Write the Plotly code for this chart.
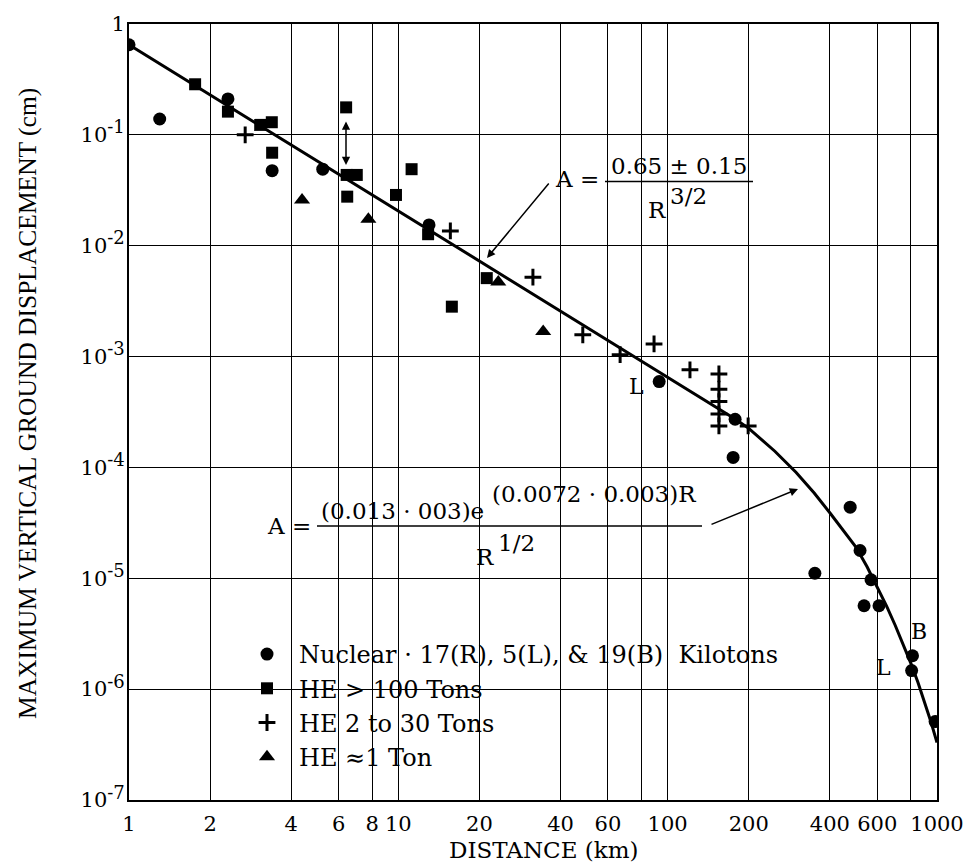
import plotly.graph_objects as go

# ---------------- data ----------------
nuclear_x = [1.0, 1.30, 2.33, 3.4, 5.24, 13.0, 93, 178, 175, 352, 476, 518, 569, 536, 609, 811, 805, 984]
nuclear_y = [0.65, 0.139, 0.211, 0.0475, 0.049, 0.0154, 0.000595, 0.000272, 0.000123,
             1.11e-5, 4.38e-5, 1.78e-5, 9.7e-6, 5.65e-6, 5.65e-6, 2.0e-6, 1.47e-6, 5.1e-7]

he100_x = [1.76, 2.33, 3.07, 3.39, 3.4, 6.40, 6.43, 7.01, 6.46, 9.8, 11.2, 12.9, 15.8, 21.3]
he100_y = [0.286, 0.162, 0.123, 0.130, 0.069, 0.177, 0.0435, 0.0435, 0.0277, 0.0287,
           0.049, 0.0127, 0.00282, 0.0051]

he2_30_x = [2.70, 15.6, 31.6, 48.4, 66.6, 89, 121, 155, 155, 155, 155, 155, 199]
he2_30_y = [0.100, 0.0136, 0.0052, 0.00157, 0.00104, 0.0013, 0.00076,
            6.98e-4, 5.08e-4, 3.93e-4, 3.04e-4, 2.37e-4, 2.37e-4]

he1_x = [4.39, 7.74, 23.5, 34.5]
he1_y = [0.0259, 0.0173, 0.0047, 0.00168]

# fitted curve
curve_x = [1, 2, 4, 10, 20, 40, 100, 150, 178, 200, 250, 300, 350, 400, 450, 500,
           550, 600, 650, 700, 750, 800, 850, 900, 950, 1000]
curve_y = [0.65, 0.23, 0.081, 0.0205, 0.0073, 0.0026, 0.00065, 0.00036, 0.000274, 0.000225,
           0.00014, 0.00009, 0.0000587, 0.000039, 0.0000269, 0.0000191,
           0.0000127, 0.0000083, 0.0000056, 0.00000375, 0.00000253, 0.00000171,
           0.00000115, 0.00000077, 0.000000505, 0.00000033]

x_tickvals = [1, 2, 4, 6, 8, 10, 20, 40, 60, 80, 100, 200, 400, 600, 800, 1000]
x_ticktext = ["1", "2", "4", "6", "8", "10", "20", "40", "60", "", "100", "200", "400", "600", "", "1000"]
y_tickvals = [1e-7, 1e-6, 1e-5, 1e-4, 1e-3, 1e-2, 1e-1, 1]
y_exponents = ["-7", "-6", "-5", "-4", "-3", "-2", "-1", None]

legend_names = ["Nuclear · 17(R), 5(L), & 19(B)\u00a0 Kilotons", "HE > 100 Tons",
                "HE 2 to 30 Tons", "HE \u22481 Ton"]

# ---------------- layout helpers ----------------
W, H = 980, 868
L, R, T, B = 129, 937, 24, 800
PW, PH = R - L, B - T
SERIF = "DejaVu Serif"


def px(x):
    return (x - L) / PW


def py(y):
    return (B - y) / PH


y_ticktext = ["1" if e is None else
              "10<sup><span style='font-size:18px'>" + e + "</span></sup>" for e in y_exponents]

fig = go.Figure()

fig.add_trace(go.Scatter(x=curve_x, y=curve_y, mode="lines",
                         line=dict(color="black", width=3),
                         showlegend=False, hoverinfo="skip"))

fig.add_trace(go.Scatter(x=nuclear_x, y=nuclear_y, mode="markers", name="\u2002" + legend_names[0],
                         marker=dict(symbol="circle", size=13, color="black")))
fig.add_trace(go.Scatter(x=he100_x, y=he100_y, mode="markers", name="\u2002" + legend_names[1],
                         marker=dict(symbol="square", size=12, color="black")))
fig.add_trace(go.Scatter(x=he2_30_x, y=he2_30_y, mode="markers", name="\u2002" + legend_names[2],
                         marker=dict(symbol="cross-thin", size=12, color="black",
                                     line=dict(color="black", width=3))))
fig.add_trace(go.Scatter(x=he1_x, y=he1_y, mode="markers", name="\u2002" + legend_names[3],
                         marker=dict(symbol="triangle-up", size=14, color="black")))

# white masks that interrupt the grid behind the labels
masks = [
    (540, 148, 765, 226),   # upper formula
    (262, 480, 717, 568),   # lower formula
    (235, 635, 827, 770),   # legend
    (624, 365, 650, 405),   # L (near 90 km)
    (907, 612, 931, 650),   # B
    (871, 647, 895, 686),   # L (near 800 km)
]
shapes = []
for x0, y0, x1, y1 in masks:
    shapes.append(dict(type="rect", xref="paper", yref="paper",
                       x0=px(x0), x1=px(x1), y0=py(y1), y1=py(y0),
                       fillcolor="white", line=dict(width=0), layer="between"))
# fraction bars
shapes.append(dict(type="line", xref="paper", yref="paper", x0=px(605), x1=px(753),
                   y0=py(181.5), y1=py(181.5), line=dict(color="black", width=1.3)))
shapes.append(dict(type="line", xref="paper", yref="paper", x0=px(317), x1=px(702),
                   y0=py(526), y1=py(526), line=dict(color="black", width=1.3)))

ann = []


def text(t, x, y, size=23, xanchor="center", family=SERIF, angle=0):
    ann.append(dict(text=t, xref="paper", yref="paper", x=px(x), y=py(y),
                    xanchor=xanchor, yanchor="middle", showarrow=False, textangle=angle,
                    font=dict(family=family, size=size, color="black")))


def arrow(x0, y0, x1, y1, both=False):
    ann.append(dict(text="", xref="paper", yref="paper", x=px(x1), y=py(y1),
                    ax=x0 - x1, ay=y0 - y1, axref="pixel", ayref="pixel",
                    showarrow=True, arrowhead=2, arrowsize=1.1, arrowwidth=1.5,
                    arrowcolor="black", arrowside="end+start" if both else "end",
                    standoff=0, startstandoff=0))


# upper formula
text("A =", 601, 179, xanchor="right")
text("0.65 \u00b1 0.15", 679, 166)
text("R", 657, 210)
text("3/2", 668, 196, xanchor="left")
arrow(550, 182, 487, 258)

# lower formula
text("A =", 313, 526, xanchor="right")
text("(0.013 \u00b7 003)e", 319, 511, xanchor="left")
text("(0.0072 \u00b7 0.003)R", 490, 494, xanchor="left")
text("R", 485, 557)
text("1/2", 496, 543, xanchor="left")
arrow(710, 525, 798, 489)

# double arrow between HE squares
arrow(346, 120, 346, 165, both=True)

# point labels
text("L", 636, 386, size=22)
text("B", 919, 631, size=22)
text("L", 883, 667, size=22)

# axis titles
text("DISTANCE (km)", 544, 850, size=23)
text("MAXIMUM VERTICAL GROUND DISPLACEMENT (cm)", 27, 404, size=25.5,
     family="Liberation Serif", angle=-90)

axis_common = dict(type="log", showgrid=True, gridcolor="black", gridwidth=1.4,
                   showline=True, linecolor="black", linewidth=2, mirror=True,
                   ticks="", zeroline=False,
                   tickfont=dict(family=SERIF, size=21, color="black"))

fig.update_layout(
    width=W, height=H,
    margin=dict(l=L, r=W - R, t=T, b=H - B, pad=0),
    paper_bgcolor="white", plot_bgcolor="white",
    xaxis=dict(range=[0, 3], tickvals=x_tickvals, ticktext=x_ticktext,
               ticklabelstandoff=4, **axis_common),
    yaxis=dict(range=[-7, 0], tickvals=y_tickvals, ticktext=y_ticktext,
               ticklabelstandoff=-2, **axis_common),
    legend=dict(x=px(247), y=py(632), xanchor="left", yanchor="top",
                bgcolor="rgba(0,0,0,0)", borderwidth=0,
                font=dict(family=SERIF, size=24, color="black"),
                itemsizing="trace", tracegroupgap=0),
    shapes=shapes,
    annotations=ann,
    showlegend=True,
)

fig.write_html("out.html", config={"displayModeBar": False},
               post_script="document.body.style.margin='0px';")
